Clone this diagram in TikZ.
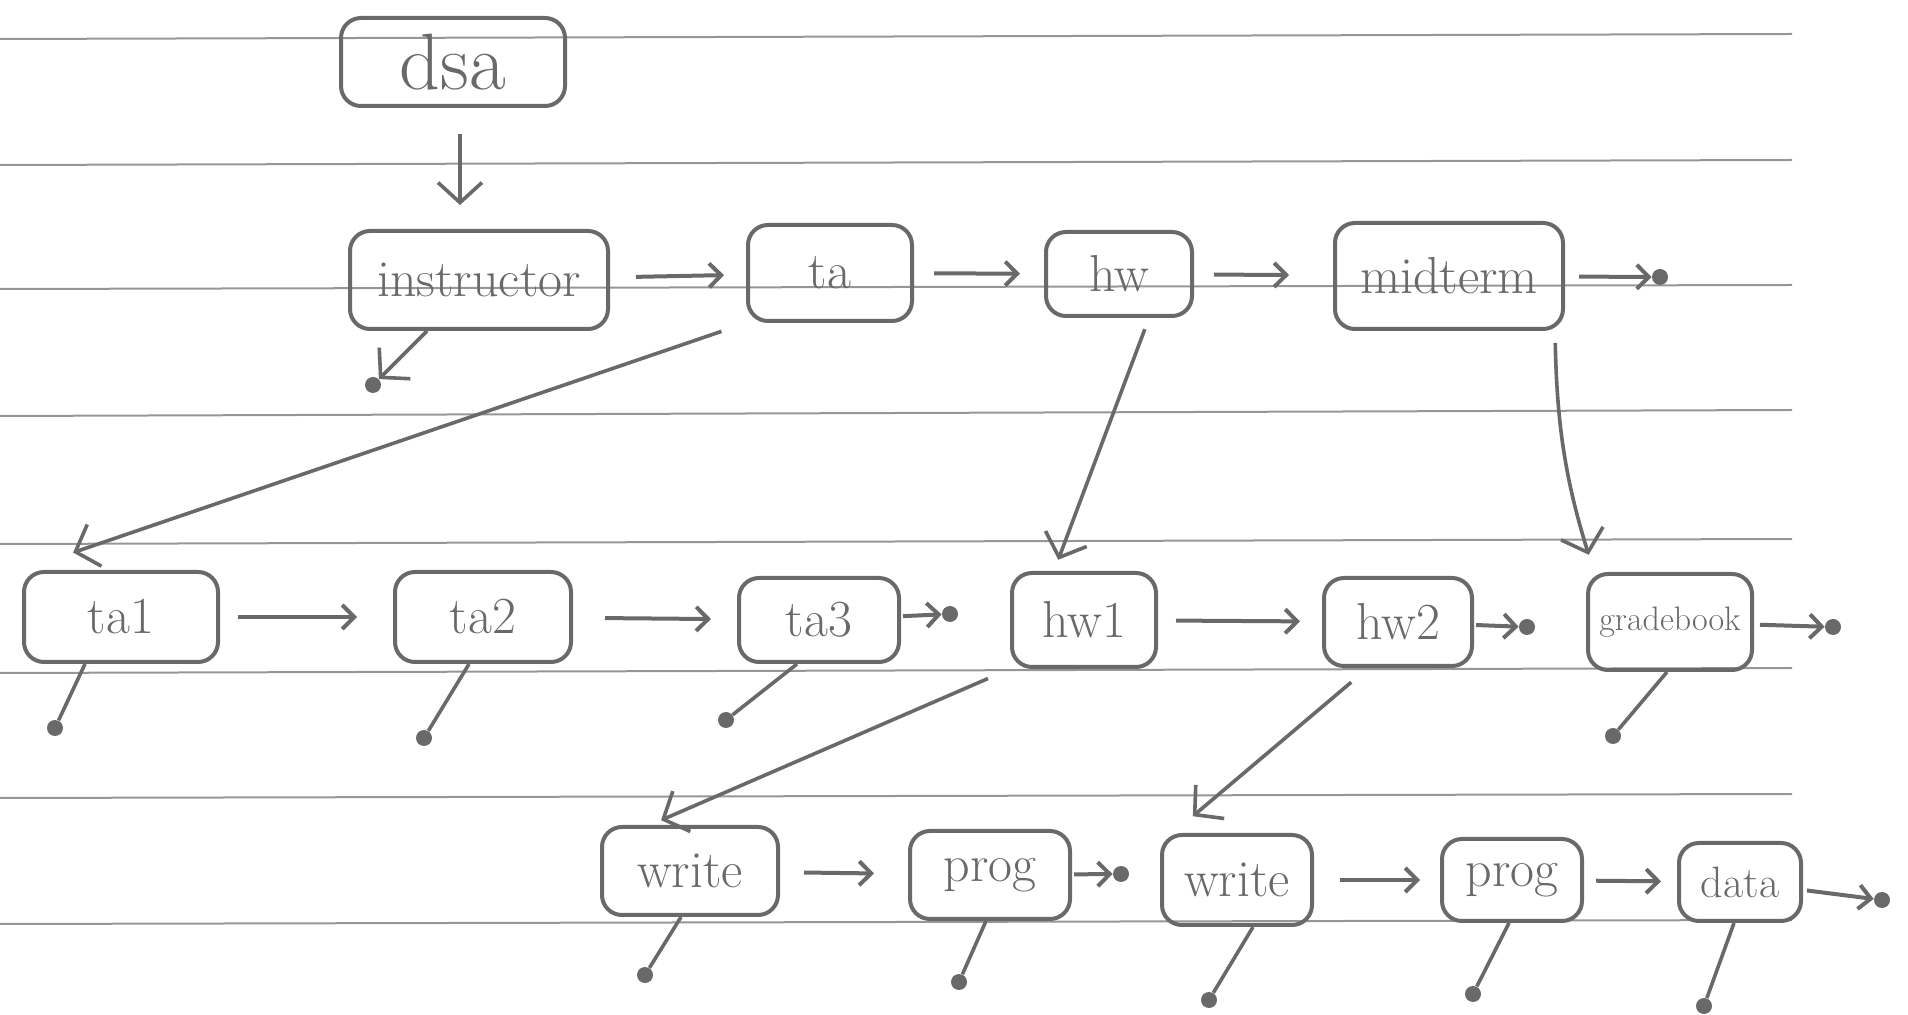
\documentclass[tikz,border=0pt]{standalone}
\usepackage{xcolor}
\usepackage{tikz}
\usetikzlibrary{arrows.meta}

\definecolor{pencil}{RGB}{105,105,105}
\definecolor{ruling}{RGB}{150,150,150}

\tikzset{
  box/.style={draw=pencil, line width=2pt, rounded corners=10pt, text=pencil,
    font=\fontsize{26}{30}\selectfont, inner sep=0pt},
  nil/.style={circle, fill=pencil, inner sep=0pt, minimum size=8pt},
  nextptr/.style={draw=pencil, line width=2pt, -{Straight Barb[length=6pt,width=12pt]},
    shorten <=10pt, shorten >=10pt},
  downptr/.style={draw=pencil, line width=1.8pt, -{Straight Barb[length=10pt,width=22pt]}},
  kidptr/.style={draw=pencil, line width=1.8pt},
  ruled/.style={draw=ruling, line width=1pt}
}

\begin{document}
\begin{tikzpicture}[x=0.5pt, y=-0.5pt]
             \useasboundingbox (0,0) rectangle (1908,1015);

             % the ruled paper
             \draw[ruled] (0,39) -- (1792,34);
             \draw[ruled] (0,165) -- (1792,160);
             \draw[ruled] (0,289) -- (1792,285);
             \draw[ruled] (0,416) -- (1792,410);
             \draw[ruled] (0,544) -- (1792,539);
             \draw[ruled] (0,673) -- (1792,668);
             \draw[ruled] (0,798) -- (1792,794);
             \draw[ruled] (0,924) -- (1792,920);

             % top
             \node[box, minimum width=112pt, minimum height=44pt, font=\fontsize{40}{44}\selectfont] (dsa) at (453,62) {dsa};

             % first level
             \node[box, minimum width=129pt, minimum height=49pt] (instructor) at (479,280) {instructor};
             \node[box, minimum width=82pt, minimum height=48pt] (ta) at (830,273) {ta};
             \node[box, minimum width=73pt, minimum height=42pt] (hw) at (1119,274) {hw};
             \node[box, minimum width=114pt, minimum height=53pt] (midterm) at (1449,276) {midterm};

             % second level
             \node[box, minimum width=97pt, minimum height=45pt] (ta1) at (121,617) {ta1};
             \node[box, minimum width=88pt, minimum height=45pt] (ta2) at (483,617) {ta2};
             \node[box, minimum width=80pt, minimum height=42pt] (ta3) at (819,620) {ta3};
             \node[box, minimum width=72pt, minimum height=47pt] (hw1) at (1084,620) {hw1};
             \node[box, minimum width=74pt, minimum height=44pt] (hw2) at (1398,622) {hw2};
             \node[box, minimum width=82pt, minimum height=48pt, font=\fontsize{17}{20}\selectfont] (gradebook) at (1670,622) {gradebook};

             % third level
             \node[box, minimum width=88pt, minimum height=44pt] (write1) at (690,871) {write};
             \node[box, minimum width=80pt, minimum height=44pt] (prog1) at (990,875) {prog};
             \node[box, minimum width=75pt, minimum height=45pt] (write2) at (1237,880) {write};
             \node[box, minimum width=70pt, minimum height=41pt] (prog2) at (1512,880) {prog};
             \node[box, minimum width=61pt, minimum height=39pt, font=\fontsize{22}{26}\selectfont] (data) at (1740,882) {data};

             % null ends
             \node[nil] (midnil) at (1660,277) {};
             \node[nil] (instnil) at (373,385) {};
             \node[nil] (ta3nil) at (950,614) {};
             \node[nil] (hw2nil) at (1527,627) {};
             \node[nil] (gradenil) at (1833,627) {};
             \node[nil] (prognil) at (1121,874) {};
             \node[nil] (datanil) at (1882,900) {};
             \node[nil] (ta1kid) at (55,728) {};
             \node[nil] (ta2kid) at (424,738) {};
             \node[nil] (ta3kid) at (726,720) {};
             \node[nil] (gradekid) at (1613,736) {};
             \node[nil] (write1kid) at (645,975) {};
             \node[nil] (prog1kid) at (959,982) {};
             \node[nil] (write2kid) at (1209,1000) {};
             \node[nil] (prog2kid) at (1473,994) {};
             \node[nil] (datakid) at (1704,1006) {};

             % next pointers
             \draw[nextptr, shorten <=13pt, shorten >=11pt] (instructor) -- (ta);
             \draw[nextptr, shorten <=10pt, shorten >=12pt] (ta) -- (hw);
             \draw[nextptr, shorten <=10pt, shorten >=22pt] (hw) -- (midterm);
             \draw[nextptr, shorten <=7pt, shorten >=0pt] (midterm) -- (midnil);
             \draw[nextptr, shorten <=9pt, shorten >=18pt] (ta1) -- (ta2);
             \draw[nextptr, shorten <=16pt, shorten >=13pt] (ta2) -- (ta3);
             \draw[nextptr, shorten <=1pt, shorten >=0pt] (ta3) -- (ta3nil);
             \draw[nextptr, shorten <=9pt, shorten >=11pt] (hw1) -- (hw2);
             \draw[nextptr, shorten <=1pt, shorten >=0pt] (hw2) -- (hw2nil);
             \draw[nextptr, shorten <=3pt, shorten >=0pt] (gradebook) -- (gradenil);
             \draw[nextptr, shorten <=12pt, shorten >=17pt] (write1) -- (prog1);
             \draw[nextptr, shorten <=1pt, shorten >=0pt] (prog1) -- (prognil);
             \draw[nextptr, shorten <=13pt, shorten >=10pt] (write2) -- (prog2);
             \draw[nextptr, shorten <=6pt, shorten >=8pt] (prog2) -- (data);
             \draw[nextptr, shorten <=2pt, shorten >=0pt] (data) -- (datanil);

             % child pointers
             \draw[downptr, shorten <=13pt, shorten >=12pt] ([xshift=3.5pt]dsa.south) -- ([xshift=-9.5pt]instructor.north);
             \draw[downptr, shorten <=0pt, shorten >=0pt] ([xshift=-26pt]instructor.south) -- (instnil);
             \draw[downptr, shorten <=13pt, shorten >=27pt] (ta.south west) -- (ta1.north west);
             \draw[downptr, shorten <=6pt, shorten >=6pt] ([xshift=15pt]hw.south) -- ([xshift=-15pt]hw1.north);
             \draw[downptr, shorten <=6pt, shorten >=9pt] ([xshift=53pt]midterm.south) to[bend right=8] ([xshift=-38pt]gradebook.north);
             \draw[downptr, shorten <=12pt, shorten >=6pt] (hw1.south west) -- ([xshift=-20pt]write1.north);
             \draw[downptr, shorten <=11pt, shorten >=13pt] ([xshift=-15pt]hw2.south) -- ([xshift=-32pt]write2.north);

             % first-child links to nothing
             \draw[kidptr] ([xshift=-18pt]ta1.south) -- (ta1kid);
             \draw[kidptr] ([xshift=-7pt]ta2.south) -- (ta2kid);
             \draw[kidptr] ([xshift=-11pt]ta3.south) -- (ta3kid);
             \draw[kidptr] ([xshift=-1.5pt]gradebook.south) -- (gradekid);
             \draw[kidptr] ([xshift=-4.5pt]write1.south) -- (write1kid);
             \draw[kidptr] ([xshift=-2pt]prog1.south) -- (prog1kid);
             \draw[kidptr] ([xshift=8pt]write2.south) -- (write2kid);
             \draw[kidptr] ([xshift=-1.5pt]prog2.south) -- (prog2kid);
             \draw[kidptr] ([xshift=-3pt]data.south) -- (datakid);
             \end{tikzpicture}
\end{document}
